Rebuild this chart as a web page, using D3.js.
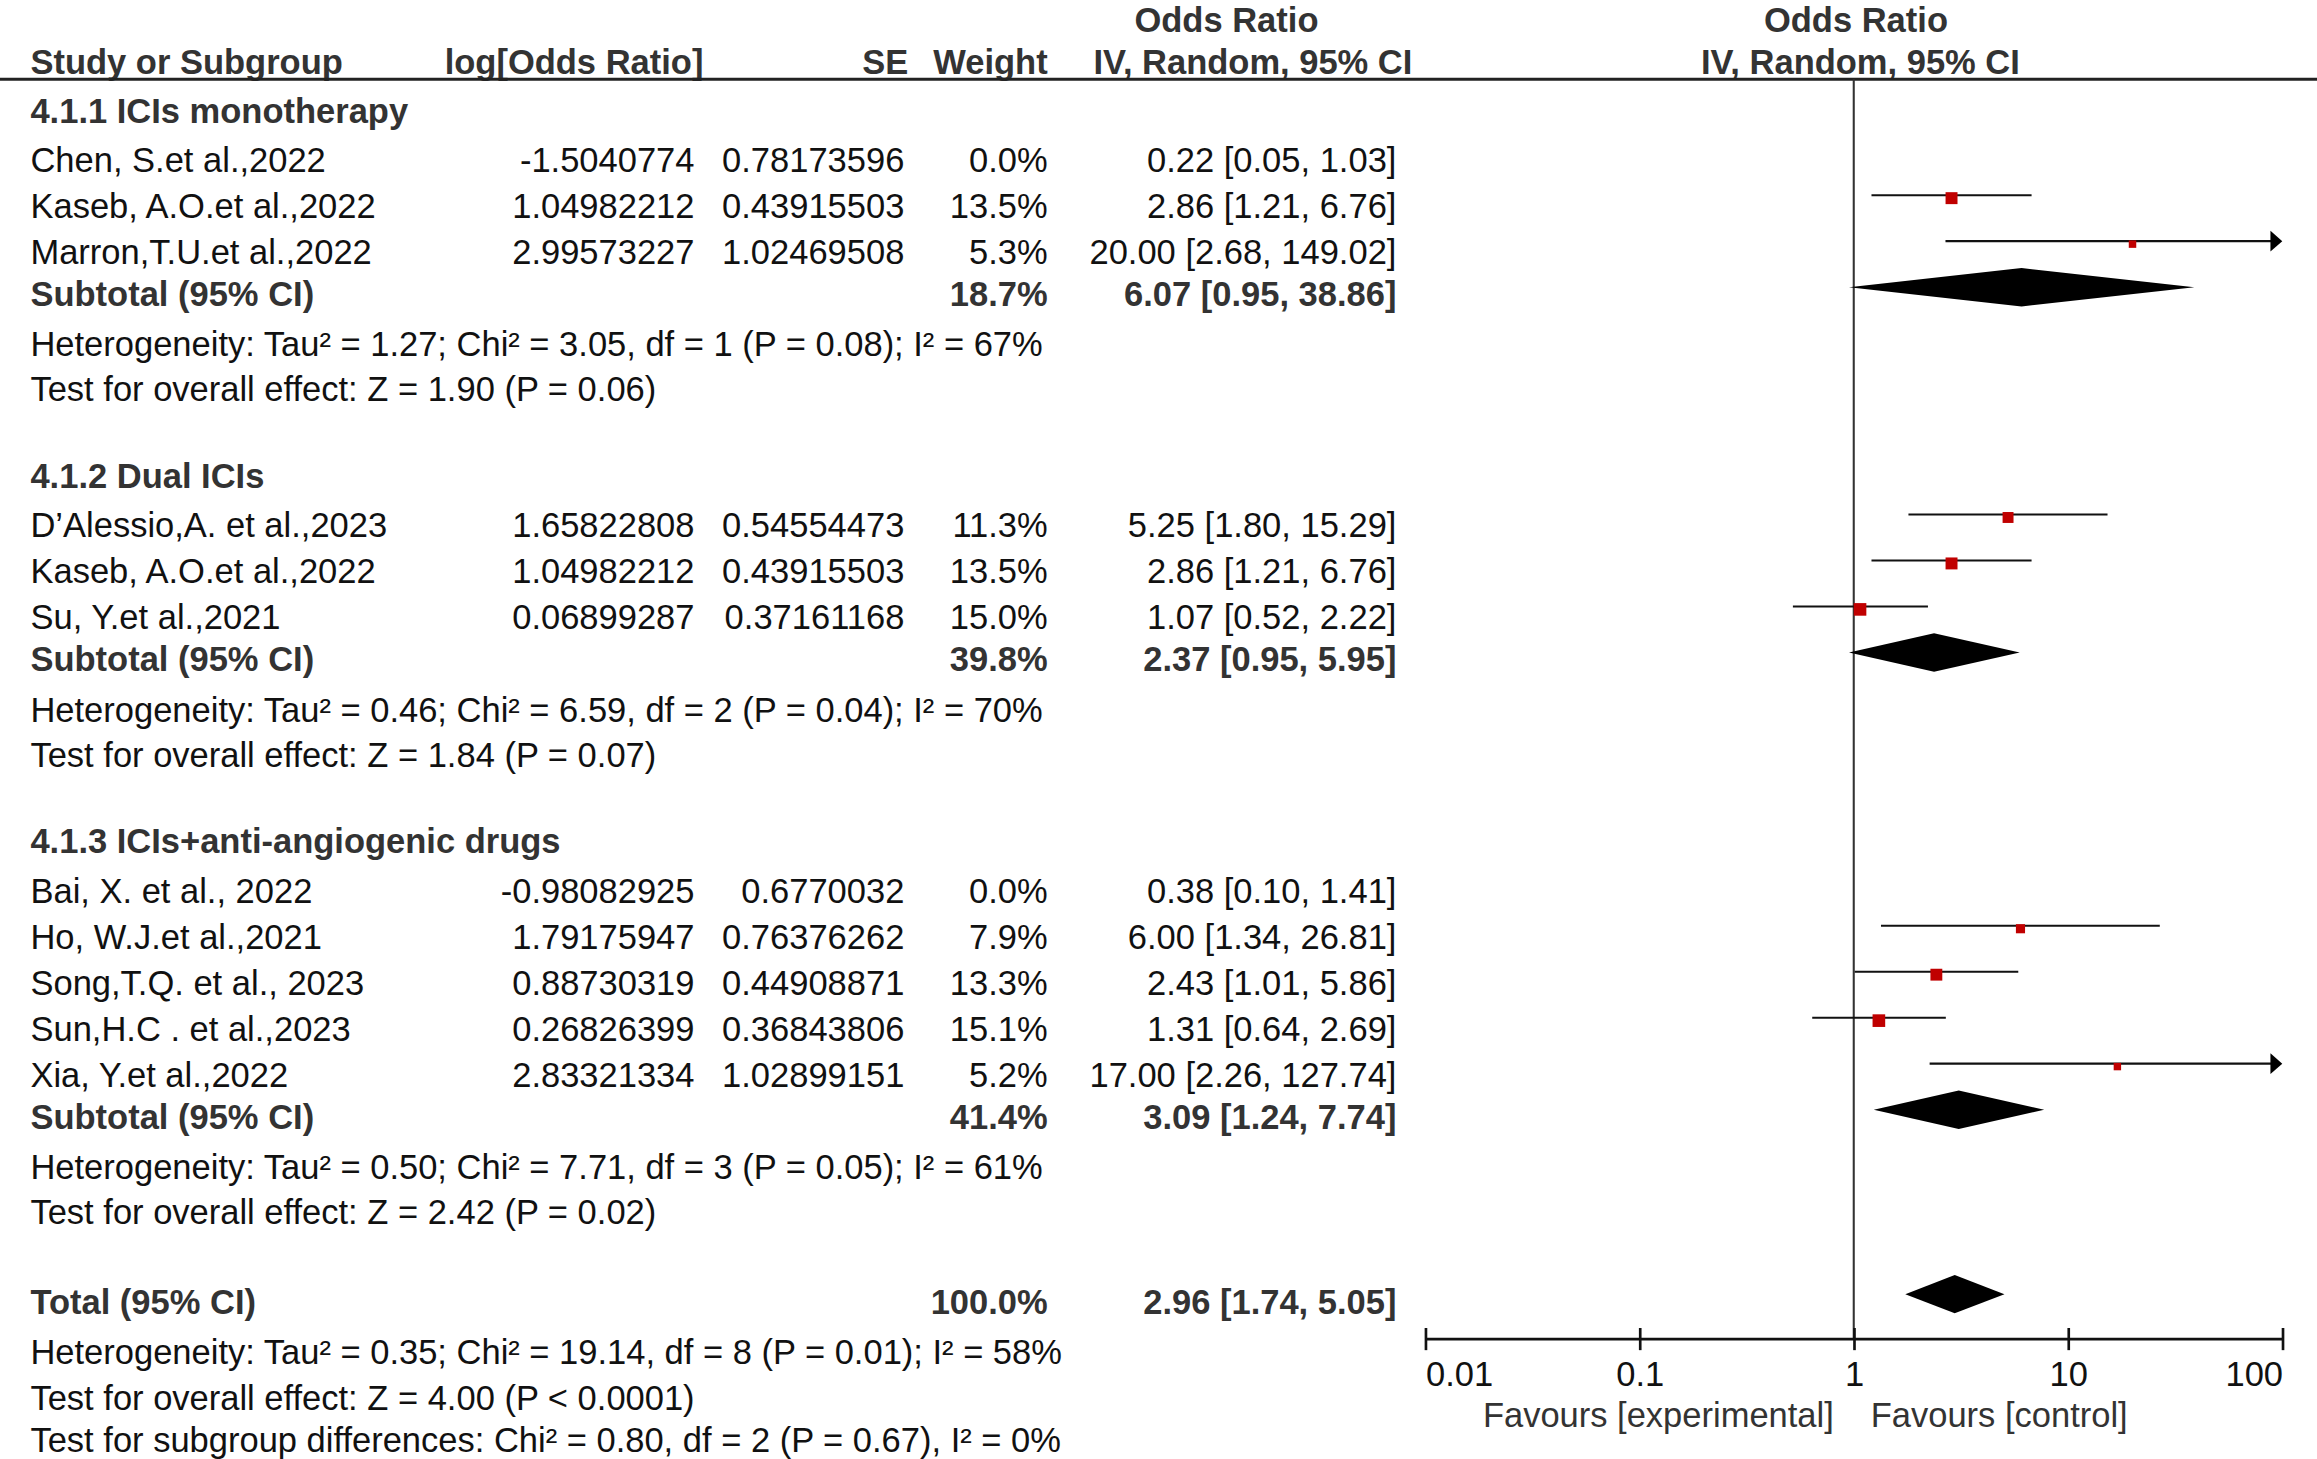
<!DOCTYPE html>
<html>
<head>
<meta charset="utf-8">
<script src="https://cdn.jsdelivr.net/npm/d3@7/dist/d3.min.js"></script>
<style>
  html, body { margin: 0; padding: 0; background: #fff; overflow: hidden; }
  svg { display: block; }
  text { font-family: "Liberation Sans", Arial, Helvetica, sans-serif; }
</style>
</head>
<body>
<svg id="chart"></svg>
<script>
// ---------------- DATA ----------------
const groupTitles = ["4.1.1 ICIs monotherapy", "4.1.2 Dual ICIs", "4.1.3 ICIs+anti-angiogenic drugs"];

const studyNames = [
  "Chen, S.et al.,2022", "Kaseb, A.O.et al.,2022", "Marron,T.U.et al.,2022",
  "D\u2019Alessio,A. et al.,2023", "Kaseb, A.O.et al.,2022", "Su, Y.et al.,2021",
  "Bai, X. et al., 2022", "Ho, W.J.et al.,2021", "Song,T.Q. et al., 2023", "Sun,H.C . et al.,2023", "Xia, Y.et al.,2022"
];
const studyGroup = [0, 0, 0, 1, 1, 1, 2, 2, 2, 2, 2];
const studyLogOR = ["-1.5040774", "1.04982212", "2.99573227", "1.65822808", "1.04982212", "0.06899287",
  "-0.98082925", "1.79175947", "0.88730319", "0.26826399", "2.83321334"];
const studySE = ["0.78173596", "0.43915503", "1.02469508", "0.54554473", "0.43915503", "0.37161168",
  "0.6770032", "0.76376262", "0.44908871", "0.36843806", "1.02899151"];
const studyWeight = [0.0, 13.5, 5.3, 11.3, 13.5, 15.0, 0.0, 7.9, 13.3, 15.1, 5.2];
const studyOR    = [0.22, 2.86, 20.00, 5.25, 2.86, 1.07, 0.38, 6.00, 2.43, 1.31, 17.00];
const studyLower = [0.05, 1.21, 2.68, 1.80, 1.21, 0.52, 0.10, 1.34, 1.01, 0.64, 2.26];
const studyUpper = [1.03, 6.76, 149.02, 15.29, 6.76, 2.22, 1.41, 26.81, 5.86, 2.69, 127.74];

const subWeight = [18.7, 39.8, 41.4];
const subOR    = [6.07, 2.37, 3.09];
const subLower = [0.95, 0.95, 1.24];
const subUpper = [38.86, 5.95, 7.74];
const subHet = [
  "Heterogeneity: Tau\u00B2 = 1.27; Chi\u00B2 = 3.05, df = 1 (P = 0.08); I\u00B2 = 67%",
  "Heterogeneity: Tau\u00B2 = 0.46; Chi\u00B2 = 6.59, df = 2 (P = 0.04); I\u00B2 = 70%",
  "Heterogeneity: Tau\u00B2 = 0.50; Chi\u00B2 = 7.71, df = 3 (P = 0.05); I\u00B2 = 61%"
];
const subTest = [
  "Test for overall effect: Z = 1.90 (P = 0.06)",
  "Test for overall effect: Z = 1.84 (P = 0.07)",
  "Test for overall effect: Z = 2.42 (P = 0.02)"
];

const totalWeight = 100.0;
const totalOR = 2.96, totalLower = 1.74, totalUpper = 5.05;
const totalHet = "Heterogeneity: Tau\u00B2 = 0.35; Chi\u00B2 = 19.14, df = 8 (P = 0.01); I\u00B2 = 58%";
const totalTest = "Test for overall effect: Z = 4.00 (P < 0.0001)";
const subgroupTest = "Test for subgroup differences: Chi\u00B2 = 0.80, df = 2 (P = 0.67), I\u00B2 = 0%";

const tickValues = [0.01, 0.1, 1, 10, 100];
const tickLabels = ["0.01", "0.1", "1", "10", "100"];
const favoursLeft = "Favours [experimental]";
const favoursRight = "Favours [control]";

// ---------------- LAYOUT ----------------
const W = 1568, H = 1459 * 1568 / 2317;
const svg = d3.select("#chart")
  .attr("width", 2317).attr("height", 1459)
  .attr("viewBox", `0 0 ${W} ${H}`);

const FS = 23.35;
const cReg = "#111", cBold = "#333";
const col = { name: 20.6, logor: 470, se: 612, weight: 709, ci: 945 };

const x = d3.scaleLog().domain([0.01, 100]).range([964.5, 1544.5]);
const headerLineY = 53.7, axisY = 905.7;

function txt(t, xx, yy, anchor, bold) {
  return svg.append("text").attr("x", xx).attr("y", yy)
    .attr("text-anchor", anchor || "start")
    .attr("font-size", FS)
    .attr("font-weight", bold ? "bold" : "normal")
    .attr("fill", bold ? cBold : cReg)
    .text(t);
}
const f2 = v => v.toFixed(2);
const ciText = (o, l, u) => `${f2(o)} [${f2(l)}, ${f2(u)}]`;

// Headers
txt("Odds Ratio", 830, 21.5, "middle", true);
txt("Odds Ratio", 1256, 21.5, "middle", true);
txt("Study or Subgroup", col.name, 50, "start", true);
txt("log[Odds Ratio]", 476, 50, "end", true);
txt("SE", 614.6, 50, "end", true);
txt("Weight", 709, 50, "end", true);
txt("IV, Random, 95% CI", 740, 50, "start", true);
txt("IV, Random, 95% CI", 1259, 50, "middle", true);

svg.append("line").attr("x1", 0).attr("x2", W).attr("y1", headerLineY).attr("y2", headerLineY)
  .attr("stroke", "#222").attr("stroke-width", 2);

// vertical line of no effect
svg.append("line").attr("x1", x(1)).attr("x2", x(1)).attr("y1", headerLineY).attr("y2", axisY)
  .attr("stroke", "#333").attr("stroke-width", 1.4);

const marks = svg.append("g");

function drawStudy(i, y) {
  txt(studyNames[i], col.name, y);
  txt(studyLogOR[i], col.logor, y, "end");
  txt(studySE[i], col.se, y, "end");
  txt(studyWeight[i].toFixed(1) + "%", col.weight, y, "end");
  txt(ciText(studyOR[i], studyLower[i], studyUpper[i]), col.ci, y, "end");
  if (studyWeight[i] <= 0) return;
  const ly = y - 15.5;
  const over = studyUpper[i] > 100;
  const xr = over ? x(100) - 7.5 : x(studyUpper[i]);
  marks.append("line").attr("x1", x(Math.max(studyLower[i], 0.01))).attr("x2", xr)
    .attr("y1", ly).attr("y2", ly).attr("stroke", "#111").attr("stroke-width", 1.4);
  if (over) {
    marks.append("path")
      .attr("d", `M${x(100)},${ly} L${x(100) - 8},${ly - 7} L${x(100) - 8},${ly + 7} Z`)
      .attr("fill", "#000");
  }
  const s = 2.2 * Math.sqrt(studyWeight[i]);
  marks.append("rect").attr("x", x(studyOR[i]) - s / 2).attr("y", ly + 2 - s / 2)
    .attr("width", s).attr("height", s).attr("fill", "#c00000");
}

function diamond(o, l, u, cy) {
  marks.append("path")
    .attr("d", `M${x(l)},${cy} L${x(o)},${cy - 13} L${x(u)},${cy} L${x(o)},${cy + 13} Z`)
    .attr("fill", "#000");
}

let y = 83;
groupTitles.forEach((g, gi) => {
  if (gi > 0) y += 58.5;
  txt(g, col.name, y, "start", true);
  const idx = studyGroup.map((v, i) => v === gi ? i : -1).filter(i => i >= 0);
  idx.forEach((i, k) => {
    y += (k === 0) ? 33.5 : 31.1;
    drawStudy(i, y);
  });
  y += 28.5;
  txt("Subtotal (95% CI)", col.name, y, "start", true);
  txt(subWeight[gi].toFixed(1) + "%", col.weight, y, "end", true);
  txt(ciText(subOR[gi], subLower[gi], subUpper[gi]), col.ci, y, "end", true);
  diamond(subOR[gi], subLower[gi], subUpper[gi], y - 12.8);
  y += 34;
  txt(subHet[gi], col.name, y);
  y += 30.5;
  txt(subTest[gi], col.name, y);
});

y += 61;
txt("Total (95% CI)", col.name, y, "start", true);
txt(totalWeight.toFixed(1) + "%", col.weight, y, "end", true);
txt(ciText(totalOR, totalLower, totalUpper), col.ci, y, "end", true);
diamond(totalOR, totalLower, totalUpper, y - 13.5);
y += 34;
txt(totalHet, col.name, y);
y += 31;
txt(totalTest, col.name, y);
y += 28;
txt(subgroupTest, col.name, y);

// Axis
const axis = d3.axisBottom(x).tickValues(tickValues)
  .tickFormat((d, i) => tickLabels[i]).tickSizeOuter(0).tickSizeInner(8).tickPadding(0);
const ag = svg.append("g").attr("transform", `translate(0,${axisY})`).call(axis);
ag.select(".domain").attr("stroke", "#111").attr("stroke-width", 1.8);
ag.selectAll(".tick line").attr("y1", -7).attr("y2", 8).attr("stroke", "#111").attr("stroke-width", 1.8);
ag.selectAll(".tick text")
  .attr("y", 32.3).attr("dy", null)
  .attr("font-size", FS).attr("fill", cReg)
  .attr("font-family", '"Liberation Sans", Arial, sans-serif')
  .attr("text-anchor", (d, i) => i === 0 ? "start" : (i === tickValues.length - 1 ? "end" : "middle"));

txt(favoursLeft, 1241, 965.6, "end").attr("fill", "#333");
txt(favoursRight, 1266, 965.6, "start").attr("fill", "#333");
</script>
</body>
</html>
